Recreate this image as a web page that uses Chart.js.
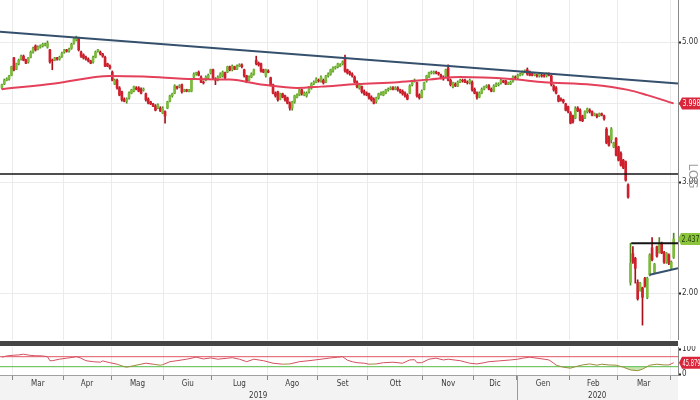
<!DOCTYPE html>
<html>
<head>
<meta charset="utf-8">
<script src="https://cdn.jsdelivr.net/npm/chart.js@4.4.1/dist/chart.umd.min.js"></script>
<style>
  html, body { margin: 0; padding: 0; background: #fff; }
  #wrap { position: relative; width: 700px; height: 400px; overflow: hidden; }
  #priceBox { position: absolute; left: 0; top: 0; width: 700px; height: 340px; }
  #band { position: absolute; left: 0; top: 341px; width: 678px; height: 5px; background: #454545; }
  #rsiBox { position: absolute; left: 0; top: 346px; width: 700px; height: 54px; }
</style>
</head>
<body>
<div id="wrap">
  <div id="priceBox"><canvas id="price"></canvas></div>
  <div id="band"></div>
  <div id="rsiBox"><canvas id="rsi"></canvas></div>
</div>
<script>
// daily candles, one per trading day (22 Feb 2019 .. 2 Apr 2020)
const opens = [
  4.23,4.29,4.35,4.37,4.43,4.72,4.53,4.62,4.70,4.75, 4.68,4.65,4.73,4.82,4.93,4.87,4.91,4.93,4.95,4.91,
  4.86,4.68,4.68,4.72,4.70,4.75,4.82,4.86,4.84,4.89, 4.98,5.04,5.07,4.82,4.77,4.73,4.70,4.67,4.65,4.73,
  4.84,4.82,4.79,4.73,4.62,4.58,4.48,4.29,4.35,4.23, 4.17,4.06,4.03,4.08,4.15,4.18,4.23,4.23,4.21,4.20,
  4.14,4.06,4.02,3.99,3.96,3.93,3.93,3.86,3.88,3.93, 4.03,4.11,4.15,4.25,4.25,4.28,4.18,4.20,4.18,4.18,
  4.40,4.45,4.48,4.40,4.32,4.35,4.39,4.47,4.52,4.37, 4.37,4.40,4.42,4.47,4.48,4.57,4.52,4.57,4.53,4.58,
  4.60,4.52,4.42,4.35,4.40,4.45,4.68,4.63,4.62,4.52, 4.42,4.50,4.39,4.28,4.15,4.17,4.06,4.14,4.11,4.08,
  4.00,3.93,4.02,4.09,4.12,4.20,4.12,4.11,4.17,4.23, 4.29,4.32,4.35,4.34,4.35,4.32,4.42,4.45,4.50,4.55,
  4.57,4.58,4.62,4.72,4.52,4.48,4.45,4.40,4.32,4.23, 4.25,4.18,4.15,4.14,4.09,4.06,4.02,4.08,4.14,4.12,
  4.15,4.20,4.21,4.23,4.21,4.23,4.20,4.18,4.15,4.12, 4.15,4.28,4.34,4.31,4.12,4.09,4.21,4.34,4.40,4.47,
  4.47,4.48,4.47,4.43,4.40,4.42,4.55,4.35,4.25,4.29, 4.26,4.32,4.35,4.35,4.32,4.31,4.32,4.21,4.15,4.09,
  4.15,4.21,4.25,4.26,4.21,4.18,4.26,4.28,4.31,4.34, 4.34,4.29,4.29,4.34,4.40,4.39,4.43,4.45,4.48,4.52,
  4.48,4.45,4.43,4.43,4.42,4.43,4.43,4.42,4.45,4.42, 4.26,4.23,4.11,4.06,4.05,3.99,3.95,3.86,3.82,3.79,
  3.93,3.90,3.82,3.79,3.88,3.90,3.88,3.83,3.83,3.82, 3.85,3.82,3.64,3.53,3.50,3.41,3.52,3.41,3.33,3.25,
  3.23,2.97,2.08,2.31,2.27,2.08,2.02,2.04,2.11,1.97, 2.14,2.36,2.16,2.37,2.32,2.40,2.32,2.24,2.30,2.19,2.28
];
const highs = [
  4.29,4.37,4.39,4.43,4.58,4.73,4.63,4.70,4.77,4.77, 4.70,4.73,4.84,4.91,4.95,4.93,4.95,4.98,4.98,5.02,
  4.87,4.70,4.73,4.73,4.75,4.82,4.87,4.87,4.89,4.98, 5.07,5.11,5.09,4.84,4.79,4.75,4.72,4.68,4.75,4.84,
  4.87,4.84,4.80,4.75,4.63,4.60,4.50,4.37,4.37,4.25, 4.18,4.08,4.08,4.17,4.21,4.26,4.25,4.25,4.23,4.23,
  4.15,4.08,4.03,4.00,3.98,3.99,3.95,3.95,3.89,4.03, 4.12,4.15,4.28,4.26,4.28,4.29,4.21,4.21,4.21,4.37,
  4.47,4.48,4.50,4.42,4.34,4.42,4.45,4.53,4.53,4.39, 4.42,4.47,4.50,4.48,4.58,4.58,4.60,4.58,4.60,4.62,
  4.62,4.53,4.43,4.42,4.47,4.53,4.75,4.65,4.63,4.53, 4.53,4.52,4.40,4.29,4.17,4.18,4.15,4.15,4.12,4.09,
  4.02,4.03,4.12,4.14,4.21,4.21,4.17,4.17,4.25,4.31, 4.34,4.39,4.37,4.42,4.37,4.43,4.47,4.53,4.57,4.58,
  4.63,4.62,4.67,4.77,4.53,4.50,4.47,4.42,4.34,4.29, 4.26,4.20,4.17,4.15,4.11,4.08,4.09,4.15,4.17,4.18,
  4.21,4.23,4.25,4.25,4.25,4.25,4.21,4.20,4.17,4.14, 4.28,4.35,4.37,4.32,4.14,4.20,4.32,4.43,4.48,4.50,
  4.50,4.50,4.48,4.45,4.42,4.53,4.60,4.37,4.32,4.31, 4.34,4.37,4.37,4.37,4.34,4.37,4.34,4.23,4.17,4.17,
  4.23,4.26,4.28,4.28,4.23,4.28,4.31,4.31,4.37,4.35, 4.35,4.32,4.34,4.42,4.42,4.45,4.47,4.50,4.52,4.55,
  4.50,4.47,4.47,4.45,4.47,4.45,4.45,4.47,4.47,4.43, 4.28,4.25,4.12,4.08,4.06,4.00,3.96,3.88,3.83,3.95,
  3.95,3.92,3.83,3.89,3.93,3.92,3.89,3.86,3.85,3.86, 3.86,3.83,3.66,3.55,3.66,3.47,3.53,3.42,3.35,3.26,
  3.24,2.98,2.40,2.37,2.28,2.10,2.08,2.045,2.12,2.12, 2.31,2.45,2.23,2.375,2.45,2.41,2.33,2.32,2.31,2.25,2.49
];
const lows = [
  4.21,4.28,4.34,4.35,4.42,4.50,4.52,4.60,4.68,4.67, 4.62,4.63,4.72,4.80,4.84,4.86,4.89,4.91,4.93,4.89,
  4.63,4.52,4.67,4.68,4.68,4.73,4.80,4.82,4.82,4.87, 4.96,5.02,4.84,4.73,4.70,4.68,4.65,4.62,4.63,4.72,
  4.82,4.77,4.73,4.57,4.57,4.53,4.34,4.28,4.21,4.11, 4.03,4.02,4.00,4.06,4.14,4.17,4.20,4.17,4.14,4.18,
  4.03,3.99,3.98,3.95,3.89,3.92,3.88,3.85,3.72,3.92, 4.02,4.09,4.14,4.21,4.23,4.15,4.17,4.17,4.17,4.17,
  4.39,4.43,4.42,4.31,4.29,4.34,4.37,4.45,4.37,4.28, 4.34,4.39,4.40,4.37,4.47,4.50,4.50,4.52,4.52,4.57,
  4.55,4.40,4.31,4.34,4.39,4.43,4.60,4.58,4.48,4.47, 4.40,4.47,4.26,4.14,4.09,4.03,4.05,4.08,4.03,3.99,
  3.90,3.90,4.00,4.08,4.11,4.12,4.11,4.09,4.15,4.21, 4.28,4.31,4.32,4.32,4.29,4.31,4.40,4.43,4.48,4.53,
  4.55,4.57,4.60,4.48,4.45,4.43,4.40,4.31,4.23,4.21, 4.15,4.12,4.11,4.06,4.03,3.99,4.00,4.06,4.12,4.11,
  4.14,4.18,4.20,4.20,4.20,4.18,4.15,4.12,4.09,4.05, 4.14,4.26,4.32,4.09,4.06,4.08,4.20,4.32,4.39,4.45,
  4.45,4.45,4.43,4.37,4.35,4.40,4.34,4.26,4.23,4.25, 4.25,4.31,4.32,4.31,4.29,4.29,4.18,4.14,4.06,4.08,
  4.14,4.20,4.23,4.20,4.17,4.17,4.25,4.26,4.29,4.31, 4.28,4.28,4.28,4.32,4.37,4.37,4.42,4.43,4.47,4.43,
  4.42,4.42,4.42,4.40,4.40,4.40,4.40,4.40,4.42,4.26, 4.18,4.14,4.02,4.03,4.00,3.89,3.86,3.71,3.72,3.78,
  3.88,3.75,3.74,3.78,3.86,3.86,3.82,3.82,3.79,3.81, 3.82,3.76,3.45,3.42,3.46,3.40,3.30,3.24,3.18,3.15,
  3.01,2.83,2.06,2.23,2.075,1.95,2.015,1.78,2.045,1.96, 2.13,2.25,2.15,2.28,2.315,2.31,2.23,2.23,2.22,2.18,2.27
];
const closes = [
  4.28,4.35,4.37,4.42,4.57,4.52,4.62,4.68,4.75,4.68, 4.63,4.72,4.82,4.89,4.86,4.91,4.93,4.96,4.96,4.98,
  4.65,4.67,4.72,4.70,4.73,4.80,4.86,4.84,4.87,4.96, 5.06,5.07,4.86,4.75,4.72,4.70,4.67,4.63,4.73,4.82,
  4.86,4.79,4.75,4.58,4.58,4.55,4.35,4.35,4.23,4.12, 4.05,4.03,4.06,4.15,4.20,4.25,4.21,4.18,4.15,4.21,
  4.05,4.00,3.99,3.96,3.90,3.98,3.89,3.93,3.82,4.02, 4.11,4.14,4.26,4.23,4.26,4.17,4.20,4.18,4.20,4.35,
  4.45,4.47,4.43,4.32,4.31,4.40,4.43,4.52,4.39,4.35, 4.40,4.45,4.48,4.39,4.57,4.52,4.58,4.53,4.58,4.60,
  4.57,4.42,4.32,4.40,4.45,4.52,4.62,4.60,4.50,4.48, 4.52,4.48,4.28,4.15,4.11,4.05,4.14,4.09,4.05,4.00,
  3.93,4.02,4.11,4.12,4.20,4.14,4.15,4.15,4.23,4.29, 4.32,4.37,4.34,4.40,4.31,4.42,4.45,4.52,4.55,4.57,
  4.62,4.60,4.65,4.50,4.47,4.45,4.42,4.32,4.25,4.28, 4.17,4.14,4.12,4.08,4.05,4.00,4.08,4.14,4.15,4.17,
  4.20,4.21,4.23,4.21,4.23,4.20,4.17,4.14,4.11,4.06, 4.26,4.34,4.35,4.11,4.08,4.18,4.31,4.42,4.47,4.48,
  4.48,4.47,4.45,4.39,4.37,4.52,4.35,4.28,4.31,4.26, 4.32,4.35,4.34,4.32,4.31,4.35,4.20,4.15,4.09,4.15,
  4.21,4.25,4.26,4.21,4.18,4.26,4.29,4.29,4.35,4.32, 4.29,4.31,4.32,4.40,4.39,4.43,4.45,4.48,4.50,4.45,
  4.43,4.43,4.45,4.42,4.45,4.42,4.42,4.45,4.43,4.28, 4.20,4.15,4.03,4.05,4.02,3.90,3.88,3.72,3.74,3.92,
  3.89,3.76,3.75,3.88,3.92,3.88,3.83,3.85,3.81,3.85, 3.83,3.78,3.46,3.43,3.64,3.46,3.31,3.25,3.19,3.16,
  3.02,2.84,2.23,2.24,2.19,1.96,2.075,1.97,2.05,2.11, 2.30,2.26,2.22,2.29,2.40,2.315,2.24,2.315,2.23,2.24,2.437
];

// moving average (day index, price)
const maIdx  = [0, 22, 45, 59, 80, 95, 109, 123, 133, 148, 165, 178, 191, 212, 226, 246, 261, 269, 280];
const maVals = [4.21, 4.30, 4.42, 4.41, 4.37, 4.36, 4.28, 4.23, 4.25, 4.29, 4.32, 4.36, 4.40, 4.37, 4.32, 4.28, 4.20, 4.12, 3.998];

// RSI panel
const rsiIdx = [0,2,5,7,9,12,14,17,19,20,21,24,27,30,31,33,35,38,41,42,45,48,51,52,55,58,60,63,66,67,
  70,73,77,81,84,87,90,94,96,99,102,105,109,113,117,120,124,128,133,137,140,142,144,146,148,151,153,156,159,163,
  167,170,172,173,175,178,181,184,186,191,195,198,201,203,207,212,215,217,220,223,226,228,230,231,234,237,239,242,245,248,
  250,253,256,259,262,265,267,270,273,276,278,280];
const rsiVals = [68,73,76,77,80,75,74,73,70,54,54,60,64,68,70,64,54,50,48,53,46,40,30,28,34,40,44,40,36,38,
  50,54,60,68,61,65,60,64,66,60,50,60,54,44,40,41,50,54,60,65,68,70,56,50,46,44,40,41,46,48,
  44,57,58,46,46,60,64,57,60,54,44,41,46,50,53,57,60,64,68,64,60,57,44,36,28,24,30,37,41,36,
  40,37,36,28,17,14,20,36,40,37,37,45.879];
const rsiLevels = [70, 30];

// drawn lines (day index, price)
const trendX = [-0.8, 281.8], trendY = [5.19, 4.30];
const supportX = [-0.8, 281.8], supportY = [3.09, 3.09];
const boxTopX = [262.3, 281.8], boxTopY = [2.40, 2.40];
const boxLowX = [270, 281.8], boxLowY = [2.14, 2.19];

// calendar: first trading-day index of each month
const monthStarts = [5, 26, 46, 68, 88, 111, 132, 153, 176, 197, 215, 237, 257, 279];
const months = ['Mar', 'Apr', 'Mag', 'Giu', 'Lug', 'Ago', 'Set', 'Ott', 'Nov', 'Dic', 'Gen', 'Feb', 'Mar'];
const years = ['2019', '2020'];
const yearStart = 215;
const priceTicks = [2, 3, 4, 5];
const rsiTicks = [0, 100];

const xMin = -0.8, xMax = 281.8;
const FONT = '"Liberation Sans Narrow", "DejaVu Sans Condensed", sans-serif';
Chart.defaults.font.family = FONT;
Chart.defaults.font.size = 9;
Chart.defaults.color = '#333';
Chart.defaults.animation = false;

const upCol = '#7dbb3c', downCol = '#d0202e';
const n = closes.length;
const isUp = closes.map((c, i) => c >= opens[i]);
const bodyColors = isUp.map(u => u ? upCol : downCol);
const wickColors = isUp.map(u => u ? '#4d8a20' : '#a8101c');
const bounds = monthStarts.map(v => v - 0.5);

function pts(xs, ys) { return xs.map((x, k) => ({ x: x, y: ys[k] })); }

function drawTag(ctx, x, y, text, fill, textColor) {
  const h = 12, w = 22;
  ctx.save();
  ctx.fillStyle = fill;
  ctx.beginPath();
  ctx.moveTo(x, y);
  ctx.lineTo(x + 3, y - h / 2);
  ctx.lineTo(x + w, y - h / 2);
  ctx.lineTo(x + w, y + h / 2);
  ctx.lineTo(x + 3, y + h / 2);
  ctx.closePath();
  ctx.fill();
  ctx.fillStyle = textColor;
  ctx.font = '9px ' + FONT;
  ctx.textAlign = 'left';
  ctx.textBaseline = 'middle';
  ctx.fillText(text, x + 3.5, y + 0.5, w - 4);
  ctx.restore();
}

const priceTags = {
  id: 'priceTags',
  afterDraw(chart) {
    const { ctx, chartArea, scales: { y } } = chart;
    const lastMa = maVals[maVals.length - 1];
    const lastClose = closes[n - 1];
    drawTag(ctx, chartArea.right + 1, y.getPixelForValue(lastMa), lastMa.toFixed(3), '#d9263a', '#fff');
    drawTag(ctx, chartArea.right, y.getPixelForValue(lastClose), lastClose.toFixed(3), '#8cc43c', '#1c3a08');
    ctx.save();
    ctx.translate(chartArea.right + 14, 176);
    ctx.rotate(Math.PI / 2);
    ctx.fillStyle = '#9a9a9a';
    ctx.font = '12px "DejaVu Sans", sans-serif';
    ctx.textAlign = 'center';
    ctx.textBaseline = 'middle';
    ctx.fillText('LOG', 0, 0);
    ctx.restore();
  }
};

const timeAxis = {
  id: 'timeAxis',
  beforeDraw(chart) {
    const { ctx, chartArea } = chart;
    ctx.save();
    ctx.fillStyle = '#f3f3f3';
    ctx.fillRect(0, chartArea.bottom, chartArea.right, chart.height - chartArea.bottom);
    ctx.restore();
  },
  afterDraw(chart) {
    const { ctx, chartArea, scales: { x, y } } = chart;
    ctx.save();
    ctx.font = '8px ' + FONT;
    ctx.fillStyle = '#3a3a3a';
    ctx.textAlign = 'center';
    ctx.textBaseline = 'middle';
    months.forEach((m, k) => {
      const mid = (monthStarts[k] + monthStarts[k + 1] - 1) / 2;
      ctx.fillText(m, x.getPixelForValue(mid), chartArea.bottom + 9);
    });
    const edges = [xMin, yearStart - 0.5, xMax];
    years.forEach((yr, k) => {
      ctx.fillText(yr, x.getPixelForValue((edges[k] + edges[k + 1]) / 2), chartArea.bottom + 21);
    });
    const sep = Math.round(x.getPixelForValue(yearStart - 0.5)) + 0.5;
    ctx.strokeStyle = '#9a9a9a';
    ctx.lineWidth = 1;
    ctx.beginPath();
    ctx.moveTo(sep, chartArea.bottom);
    ctx.lineTo(sep, chart.height);
    ctx.stroke();
    ctx.restore();
    const last = rsiVals[rsiVals.length - 1];
    drawTag(ctx, chartArea.right + 1, y.getPixelForValue(last), last.toFixed(3), '#d9263a', '#fff');
  }
};

new Chart(document.getElementById('price'), {
  data: {
    datasets: [
      { type: 'line', data: pts(trendX, trendY), borderColor: '#34506c', borderWidth: 2, pointRadius: 0, order: 0 },
      { type: 'line', data: pts(supportX, supportY), borderColor: '#141414', borderWidth: 1.6, pointRadius: 0, order: 0 },
      { type: 'line', data: pts(boxTopX, boxTopY), borderColor: '#141414', borderWidth: 2, pointRadius: 0, order: 0 },
      { type: 'line', data: pts(boxLowX, boxLowY), borderColor: '#34506c', borderWidth: 2, pointRadius: 0, order: 0 },
      { type: 'line', data: pts(maIdx, maVals), borderColor: '#e4405a', borderWidth: 2, pointRadius: 0,
        cubicInterpolationMode: 'monotone', order: 1 },
      { type: 'bar', data: closes.map((c, i) => ({ x: i, y: [opens[i], c] })), backgroundColor: bodyColors,
        barThickness: 2, grouped: false, order: 2 },
      { type: 'bar', data: closes.map((c, i) => ({ x: i, y: [lows[i], highs[i]] })), backgroundColor: wickColors,
        barThickness: 1, grouped: false, order: 3 }
    ]
  },
  options: {
    responsive: true,
    maintainAspectRatio: false,
    layout: { padding: 0, autoPadding: false },
    plugins: { legend: { display: false }, tooltip: { enabled: false } },
    scales: {
      x: {
        type: 'linear', min: xMin, max: xMax, offset: false,
        afterBuildTicks: s => { s.ticks = bounds.map(v => ({ value: v })); },
        afterFit: s => { s.height = 0; s.paddingLeft = 0; s.paddingRight = 0; },
        ticks: { display: false },
        grid: { color: '#ebebeb', drawTicks: false, offset: false },
        border: { display: false }
      },
      y: {
        type: 'logarithmic', position: 'right', min: 1.686, max: 5.83,
        afterBuildTicks: s => { s.ticks = priceTicks.map(v => ({ value: v })); },
        afterFit: s => { s.width = 22; s.paddingTop = 0; s.paddingBottom = 0; },
        ticks: { callback: v => v === 4 ? '' : v.toFixed(2), padding: 1, color: '#333', font: { size: 8 } },
        grid: { color: '#ebebeb', tickColor: '#222', tickLength: 3, tickWidth: 2 },
        border: { color: '#8a8a8a' }
      }
    }
  },
  plugins: [priceTags]
});

new Chart(document.getElementById('rsi'), {
  type: 'line',
  data: {
    datasets: [
      { data: pts(rsiIdx, rsiVals), borderColor: '#d4505f', borderWidth: 1, pointRadius: 0,
        fill: { target: { value: rsiLevels[1] }, above: 'rgba(0,0,0,0)', below: 'rgba(140,205,100,0.5)' },
        segment: { borderColor: c => (c.p0.parsed.y < 42 && c.p1.parsed.y < 42) ? '#9c8c3c' : undefined },
        order: 0 },
      { data: pts([xMin, xMax], [rsiLevels[0], rsiLevels[0]]), borderColor: '#e25564', borderWidth: 1, pointRadius: 0, order: 1 },
      { data: pts([xMin, xMax], [rsiLevels[1], rsiLevels[1]]), borderColor: '#55bb44', borderWidth: 1, pointRadius: 0, order: 1 }
    ]
  },
  options: {
    responsive: true,
    maintainAspectRatio: false,
    layout: { padding: { top: 1 }, autoPadding: false },
    plugins: { legend: { display: false }, tooltip: { enabled: false } },
    scales: {
      x: {
        type: 'linear', min: xMin, max: xMax, offset: false,
        afterBuildTicks: s => { s.ticks = bounds.map(v => ({ value: v })); },
        afterFit: s => { s.height = 25; s.paddingLeft = 0; s.paddingRight = 0; },
        ticks: { display: false },
        grid: { color: '#ebebeb', tickColor: '#888', tickLength: 5 },
        border: { color: '#a0a0a0' }
      },
      y: {
        type: 'linear', position: 'right', min: -3.2, max: 108.8,
        afterBuildTicks: s => { s.ticks = rsiTicks.map(v => ({ value: v })); },
        afterFit: s => { s.width = 22; s.paddingTop = 0; s.paddingBottom = 0; },
        ticks: { callback: v => String(v), padding: 1, color: '#333', font: { size: 8 } },
        grid: { drawOnChartArea: false, tickColor: '#222', tickLength: 3, tickWidth: 2 },
        border: { color: '#8a8a8a' }
      }
    }
  },
  plugins: [timeAxis]
});
</script>
</body>
</html>
